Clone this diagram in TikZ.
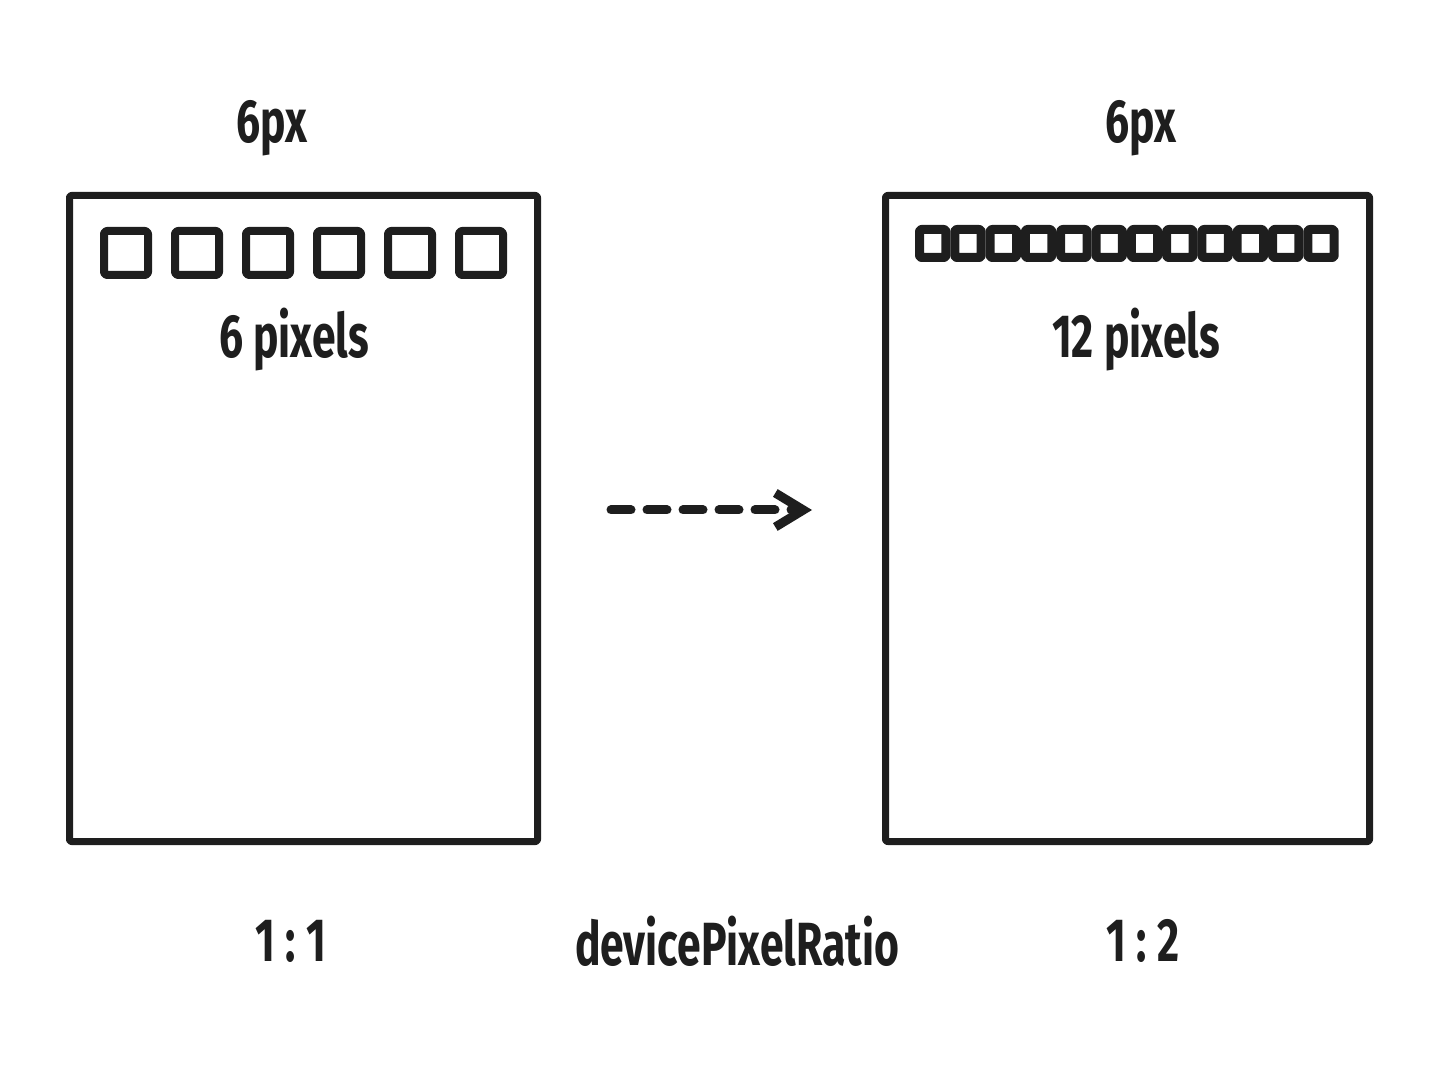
\documentclass[tikz,border=0pt]{standalone}
\usepackage{fontspec}
\usetikzlibrary{arrows.meta}
\newfontfamily\handfont[FakeStretch=0.7]{Fira Sans Bold}
\definecolor{ink}{HTML}{1E1E1E}
\tikzset{
	screenbox/.style={draw=ink, line width=3.5pt, rounded corners=1pt, minimum width=234pt, inner sep=0pt},
	bigpixel/.style={draw=ink, line width=4pt, rounded corners=1.5pt, minimum size=22pt, inner sep=0pt},
	smallpixel/.style={draw=ink, line width=4.5pt, rounded corners=1pt, minimum width=13.2pt, minimum height=14pt, inner sep=0pt},
	label/.style={text=ink, font=\handfont\fontsize{30.5}{32}\selectfont, inner sep=0pt}
}
\begin{document}
\begin{tikzpicture}[x=0.5pt, y=-0.5pt, line cap=round, line join=round]
				\useasboundingbox (0,0) rectangle (1440,1068);
				% Screens
				\node[screenbox, minimum height=323pt] (left) at (303.5,518.5) {};
				\node[screenbox, minimum width=242pt, minimum height=323pt] (right) at (1127.5,518.5) {};
				% Pixels
				\foreach \i in {0,...,5}
					\node[bigpixel] (lp\i) at ({126+71*\i},253) {};
				\foreach \i in {0,...,11}
					\node[smallpixel] (rp\i) at ({932.7+35.3*\i},243.5) {};
				% Labels
				\node[label] (lwidth) at (272,128) {6px};
				\node[label] (rwidth) at (1141,128) {6px};
				\node[label] (lcount) at (294,340) {6 pixels};
				\node[label] (rcount) at (1136,340) {12 pixels};
				\node[label] (lratio) at (291,941) {1\,:\,1};
				\node[label] (dpr) at (737,941) {devicePixelRatio};
				\node[label] (rratio) at (1143,941) {1\,:\,2};
				% Arrow
				\coordinate (from) at (611,510);
				\coordinate (to) at (812,510);
				\draw[ink, line width=4.5pt, dash pattern=on 10pt off 8pt, -{Straight Barb[length=14pt, width=17pt, line width=4.5pt]}] (from) -- (to);
			\end{tikzpicture}
\end{document}
